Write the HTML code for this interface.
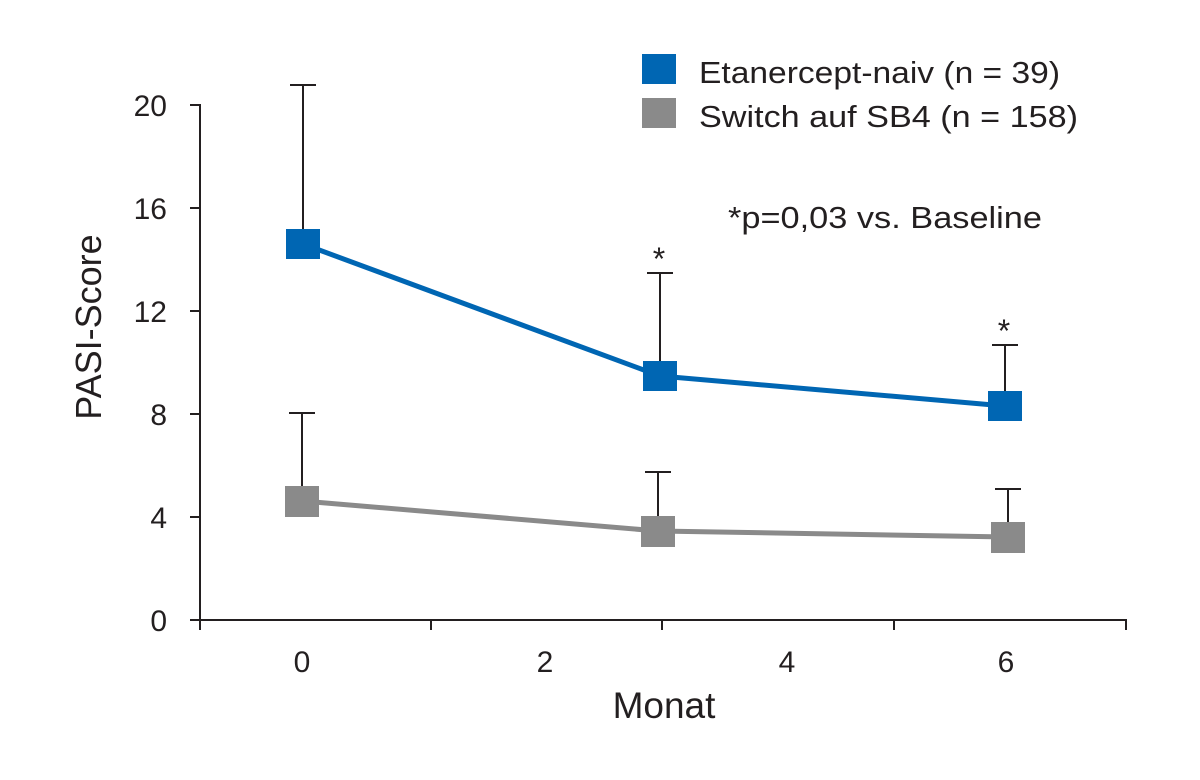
<!DOCTYPE html>
<html><head><meta charset="utf-8"><style>body{margin:0;background:#fff}svg{display:block}</style></head>
<body>
<svg width="1200" height="780" xmlns="http://www.w3.org/2000/svg" font-family="Liberation Sans, Arial, sans-serif">
<rect width="1200" height="780" fill="#fff"/>
<g stroke="#231f20" stroke-width="2" fill="none">
<line x1="200" y1="104" x2="200" y2="621"/>
<line x1="199" y1="620" x2="1127" y2="620"/>
<line x1="190" y1="105" x2="200" y2="105"/>
<line x1="190" y1="208" x2="200" y2="208"/>
<line x1="190" y1="311" x2="200" y2="311"/>
<line x1="190" y1="414" x2="200" y2="414"/>
<line x1="190" y1="517" x2="200" y2="517"/>
<line x1="190" y1="620" x2="200" y2="620"/>
<line x1="200" y1="620" x2="200" y2="630"/>
<line x1="431" y1="620" x2="431" y2="630"/>
<line x1="662" y1="620" x2="662" y2="630"/>
<line x1="894" y1="620" x2="894" y2="630"/>
<line x1="1126" y1="620" x2="1126" y2="630"/>
</g>
<g font-size="30" fill="#231f20" text-anchor="end">
<text x="167" y="116">20</text><text x="167" y="219">16</text><text x="167" y="322">12</text>
<text x="167" y="425">8</text><text x="167" y="528">4</text><text x="167" y="631">0</text>
</g>
<g font-size="30" fill="#231f20" text-anchor="middle">
<text x="302" y="672">0</text><text x="545" y="672">2</text><text x="787" y="672">4</text><text x="1006" y="672">6</text>
</g>
<text x="664" y="718" font-size="37" fill="#231f20" text-anchor="middle">Monat</text>
<text transform="translate(101,327) rotate(-90)" font-size="36" fill="#231f20" text-anchor="middle">PASI-Score</text>
<g stroke="#231f20" stroke-width="2">
<line x1="303" y1="85" x2="303" y2="244"/><line x1="290" y1="85" x2="316" y2="85"/>
<line x1="660" y1="273" x2="660" y2="376"/><line x1="647" y1="273" x2="673" y2="273"/>
<line x1="1005" y1="345" x2="1005" y2="406"/><line x1="992" y1="345" x2="1018" y2="345"/>
<line x1="302" y1="413" x2="302" y2="501"/><line x1="289" y1="413" x2="315" y2="413"/>
<line x1="658" y1="472" x2="658" y2="531"/><line x1="645" y1="472" x2="671" y2="472"/>
<line x1="1008" y1="489" x2="1008" y2="537"/><line x1="995" y1="489" x2="1021" y2="489"/>
</g>
<polyline points="303,244 660,376 1005,406" fill="none" stroke="#0066b3" stroke-width="5"/>
<polyline points="302,501 658,531 1008,537" fill="none" stroke="#8a8a8a" stroke-width="5"/>
<g fill="#0066b3">
<rect x="286" y="229" width="34" height="30"/><rect x="643" y="361" width="34" height="30"/><rect x="988" y="391" width="34" height="30"/>
</g>
<g fill="#8a8a8a">
<rect x="285" y="486" width="34" height="31"/><rect x="641" y="516" width="34" height="31"/><rect x="991" y="522" width="34" height="31"/>
</g>
<g font-size="32" fill="#231f20" text-anchor="middle">
<text x="659" y="270">*</text><text x="1004" y="342">*</text>
</g>
<rect x="642" y="54" width="34" height="30" fill="#0066b3"/>
<rect x="642" y="98" width="34" height="30" fill="#8a8a8a"/>
<g font-size="31" fill="#231f20">
<text x="699" y="83" textLength="361" lengthAdjust="spacingAndGlyphs">Etanercept-naiv (n = 39)</text>
<text x="699" y="127" textLength="379" lengthAdjust="spacingAndGlyphs">Switch auf SB4 (n = 158)</text>
<text x="728" y="228" textLength="314" lengthAdjust="spacingAndGlyphs">*p=0,03 vs. Baseline</text>
</g>
</svg>
</body></html>
